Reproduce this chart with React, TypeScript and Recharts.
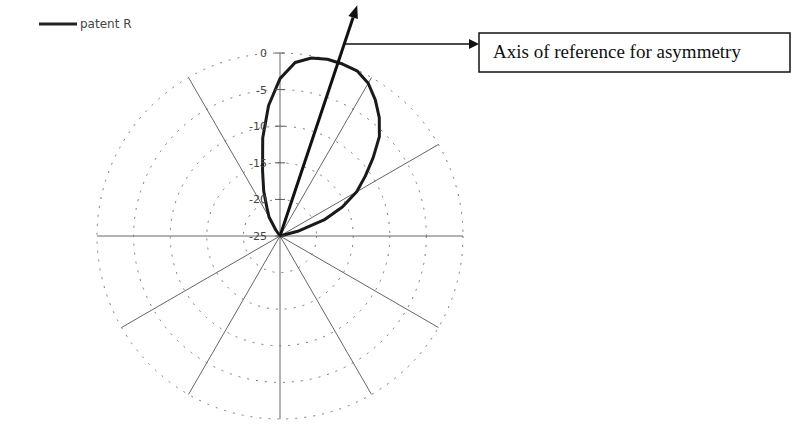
import React from 'react';
import { RadarChart, Radar, PolarGrid, PolarAngleAxis, PolarRadiusAxis } from 'recharts';

// Bearing (degrees clockwise from north) of each sample of the pattern
const bearings = [
  0, 5, 10, 15, 20, 25, 30, 35, 40, 45, 50, 55, 60, 65, 70, 75,
  80, 85, 90, 95, 100, 105, 110, 115, 120, 125, 130, 135, 140, 145, 150, 155,
  160, 165, 170, 175, 180, 185, 190, 195, 200, 205, 210, 215, 220, 225, 230, 235,
  240, 245, 250, 255, 260, 265, 270, 275, 280, 285, 290, 295, 300, 305, 310, 315,
  320, 325, 330, 335, 340, 345, 350, 355,
];

// Relative level (dB), "patent R"
const gainDb = [
  -3.5, -1.2, -0.3, 0, 0, -0.1, -0.9, -2.3, -3.9, -5.8, -8.4, -10.8, -12.9, -15.6, -18.6, -22.5,
  -25, -25, -25, -25, -25, -25, -25, -25, -25, -25, -25, -25, -25, -25, -25, -25,
  -25, -25, -25, -25, -25, -25, -25, -25, -25, -25, -25, -25, -25, -25, -25, -25,
  -25, -25, -25, -25, -25, -25, -25, -25, -25, -25, -25, -25, -25, -25, -25, -25,
  -25, -24, -22, -20.8, -18.5, -15.8, -11.4, -7.1,
];

const radiusTicks = [-25, -20, -15, -10, -5, 0];
const radiusDomain = [-25, 0];
// grid spokes (chart angle, degrees counter-clockwise from east)
const spokeAngles = [0, 30, 60, 90, 120, 180, 210, 240, 270, 300, 330];

const seriesName = 'patent R';
const annotationText = 'Axis of reference for asymmetry';
const asymmetryBearing = 18.5;

const data = bearings.map((b, i) => ({ bearing: b, gain: gainDb[i] }));

const W = 792;
const H = 443;
const CX = 280;
const CY = 236;
const R = 183;

const RadiusTick = (props: any) => {
  const { x, y, payload } = props;
  return (
    <g>
      <line x1={x - 5} x2={x + 5} y1={y} y2={y} stroke="#555" strokeWidth={1} />
      <text
        x={x - 13}
        y={y}
        dy={4}
        textAnchor="end"
        fontSize={11}
        fill="#444"
        fontFamily="DejaVu Sans, Verdana, sans-serif"
      >
        {payload.value}
      </text>
    </g>
  );
};

const Overlay = () => {
  const rad = (asymmetryBearing * Math.PI) / 180;
  const len = R * 1.33;
  const tipX = CX + len * Math.sin(rad);
  const tipY = CY - len * Math.cos(rad);
  const headLen = 13;
  const headW = 5;
  const baseX = tipX - headLen * Math.sin(rad);
  const baseY = tipY + headLen * Math.cos(rad);
  const px = Math.cos(rad);
  const py = Math.sin(rad);
  const pointerY = 44;
  const pointerStartX = CX + (CY - pointerY) * Math.tan(rad);
  const boxX = 479;
  return (
    <svg
      width={W}
      height={H}
      style={{ position: 'absolute', left: 0, top: 0, pointerEvents: 'none' }}
    >
      {/* legend */}
      <line x1={39} x2={77} y1={24} y2={24} stroke="#222" strokeWidth={3} />
      <text x={80} y={28} fontSize={12} fill="#444" fontFamily="DejaVu Sans, Verdana, sans-serif">
        {seriesName}
      </text>
      {/* axis of reference arrow */}
      <line x1={CX} y1={CY} x2={baseX} y2={baseY} stroke="#111" strokeWidth={3} />
      <polygon
        points={`${tipX},${tipY} ${baseX + headW * px},${baseY + headW * py} ${baseX - headW * px},${baseY - headW * py}`}
        fill="#111"
      />
      {/* pointer to annotation */}
      <line x1={pointerStartX} y1={pointerY} x2={boxX - 9} y2={pointerY} stroke="#111" strokeWidth={1.5} />
      <polygon points={`${boxX},${pointerY} ${boxX - 10},${pointerY - 5} ${boxX - 10},${pointerY + 5}`} fill="#111" />
      <rect x={boxX} y={33} width={311} height={39} fill="#fff" stroke="#111" strokeWidth={1.5} />
      <text x={493} y={58} fontSize={19} fill="#111" fontFamily="Liberation Serif, Times New Roman, serif">
        {annotationText}
      </text>
    </svg>
  );
};

export default function App() {
  return (
    <div style={{ position: 'absolute', left: 0, top: 0, width: W, height: H, background: '#fff' }}>
      <RadarChart
        width={W}
        height={H}
        data={data}
        cx={CX}
        cy={CY}
        outerRadius={R}
        startAngle={90}
        endAngle={-270}
        margin={{ top: 0, right: 0, bottom: 0, left: 0 }}
      >
        <PolarGrid
          gridType="circle"
          radialLines={false}
          polarAngles={[]}
          stroke="#777"
          strokeWidth={1}
          strokeDasharray="2 7"
        />
        <PolarGrid
          gridType="circle"
          polarAngles={spokeAngles}
          polarRadius={[]}
          stroke="#666"
          strokeWidth={1}
        />
        <PolarAngleAxis dataKey="bearing" tick={false} tickLine={false} axisLine={false} />
        <PolarRadiusAxis
          angle={90}
          type="number"
          domain={radiusDomain}
          ticks={radiusTicks}
          tickCount={6}
          axisLine={false}
          tick={<RadiusTick />}
        />
        <Radar
          name={seriesName}
          dataKey="gain"
          stroke="#1a1a1a"
          strokeWidth={3}
          strokeLinejoin="round"
          fill="none"
          fillOpacity={0}
          dot={false}
          isAnimationActive={false}
        />
      </RadarChart>
      <Overlay />
    </div>
  );
}
